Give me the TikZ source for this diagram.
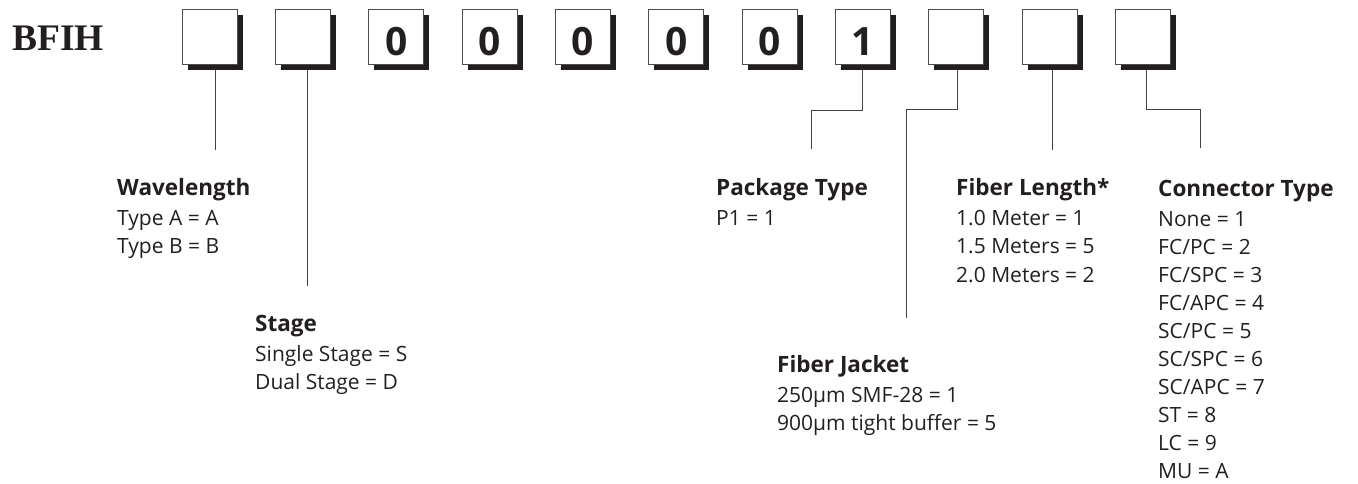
\documentclass[tikz,border=0pt]{standalone}
\usepackage{fontspec}
\setmainfont{Open Sans}
\newfontfamily\codefont{Liberation Serif}
\usetikzlibrary{shadows}

\definecolor{ink}{HTML}{231F20}

\tikzset{
  digitbox/.style={draw=ink!80, line width=0.8pt, fill=white, minimum size=55pt,
    inner sep=0pt, text height=37pt, text depth=0pt, text=ink,
    font=\fontsize{39}{39}\selectfont\bfseries,
    drop shadow={shadow xshift=5.5pt, shadow yshift=-5.5pt, opacity=1, fill=ink}},
  lead/.style={draw=ink!85, line width=1pt},
  heading/.style={anchor=base west, inner sep=0pt, text=ink,
    font=\fontsize{22.5}{22.5}\selectfont\bfseries},
  entry/.style={anchor=base west, inner sep=0pt, text=ink,
    font=\fontsize{21}{21}\selectfont}
}

\begin{document}
\begin{tikzpicture}[x=1pt,y=1pt]

\useasboundingbox (0,0) rectangle (1358,-483);

\node[anchor=base west, inner sep=0pt, text=ink, font=\codefont\fontsize{37.5}{37.5}\selectfont\bfseries] (code) at (12,-50) {BFIH};

\foreach \d [count=\i] in {{},{},0,0,0,0,0,1,{},{},{}}
    \node[digitbox] (b\i) at ({209.5+93.35*(\i-1)},-36.5) {\d};

\node[heading] (wl) at (117,-195) {Wavelength};
\foreach \t [count=\i] in {Type A = A, Type B = B}
    \node[entry] (wl-\i) at ([yshift={-30-28.5*(\i-1)}]wl.base west) {\t};

\node[heading] (st) at (255,-331) {Stage};
\foreach \t [count=\i] in {Single Stage = S, Dual Stage = D}
    \node[entry] (st-\i) at ([yshift={-30-28.5*(\i-1)}]st.base west) {\t};

\node[heading] (pt) at (716,-195) {Package Type};
\foreach \t [count=\i] in {P1 = 1}
    \node[entry] (pt-\i) at ([yshift={-30-28.5*(\i-1)}]pt.base west) {\t};

\node[heading] (fj) at (777,-372) {Fiber Jacket};
\foreach \t [count=\i] in {250µm SMF-28 = 1, 900µm tight buffer = 5}
    \node[entry] (fj-\i) at ([yshift={-30-28.5*(\i-1)}]fj.base west) {\t};

\node[heading] (fl) at (956,-195) {Fiber Length*};
\foreach \t [count=\i] in {1.0 Meter = 1, 1.5 Meters = 5, 2.0 Meters = 2}
    \node[entry] (fl-\i) at ([yshift={-30-28.5*(\i-1)}]fl.base west) {\t};

\node[heading] (ct) at (1158,-196) {Connector Type};
\foreach \t [count=\i] in {None = 1, FC/PC = 2, FC/SPC = 3, FC/APC = 4, SC/PC = 5,
                           SC/SPC = 6, SC/APC = 7, ST = 8, LC = 9, MU = A}
    \node[entry] (ct-\i) at ([yshift={-30-28*(\i-1)}]ct.base west) {\t};

\draw[lead] ([xshift=6pt,yshift=-6pt]b1.south) -- ++(0,-80);
\draw[lead] ([xshift=4.5pt,yshift=-6pt]b2.south) -- ++(0,-216);
\draw[lead] ([yshift=-6pt]b8.south) -- ++(0,-40) -| ++(-51,-39);
\draw[lead] ([xshift=1pt,yshift=-6pt]b9.south) -- ++(0,-39) -| ++(-51,-209);
\draw[lead] ([xshift=3pt,yshift=-6pt]b10.south) -- ++(0,-80);
\draw[lead] ([xshift=3pt,yshift=-6pt]b11.south) -- ++(0,-39) -| ++(54,-39);

\end{tikzpicture}
\end{document}
